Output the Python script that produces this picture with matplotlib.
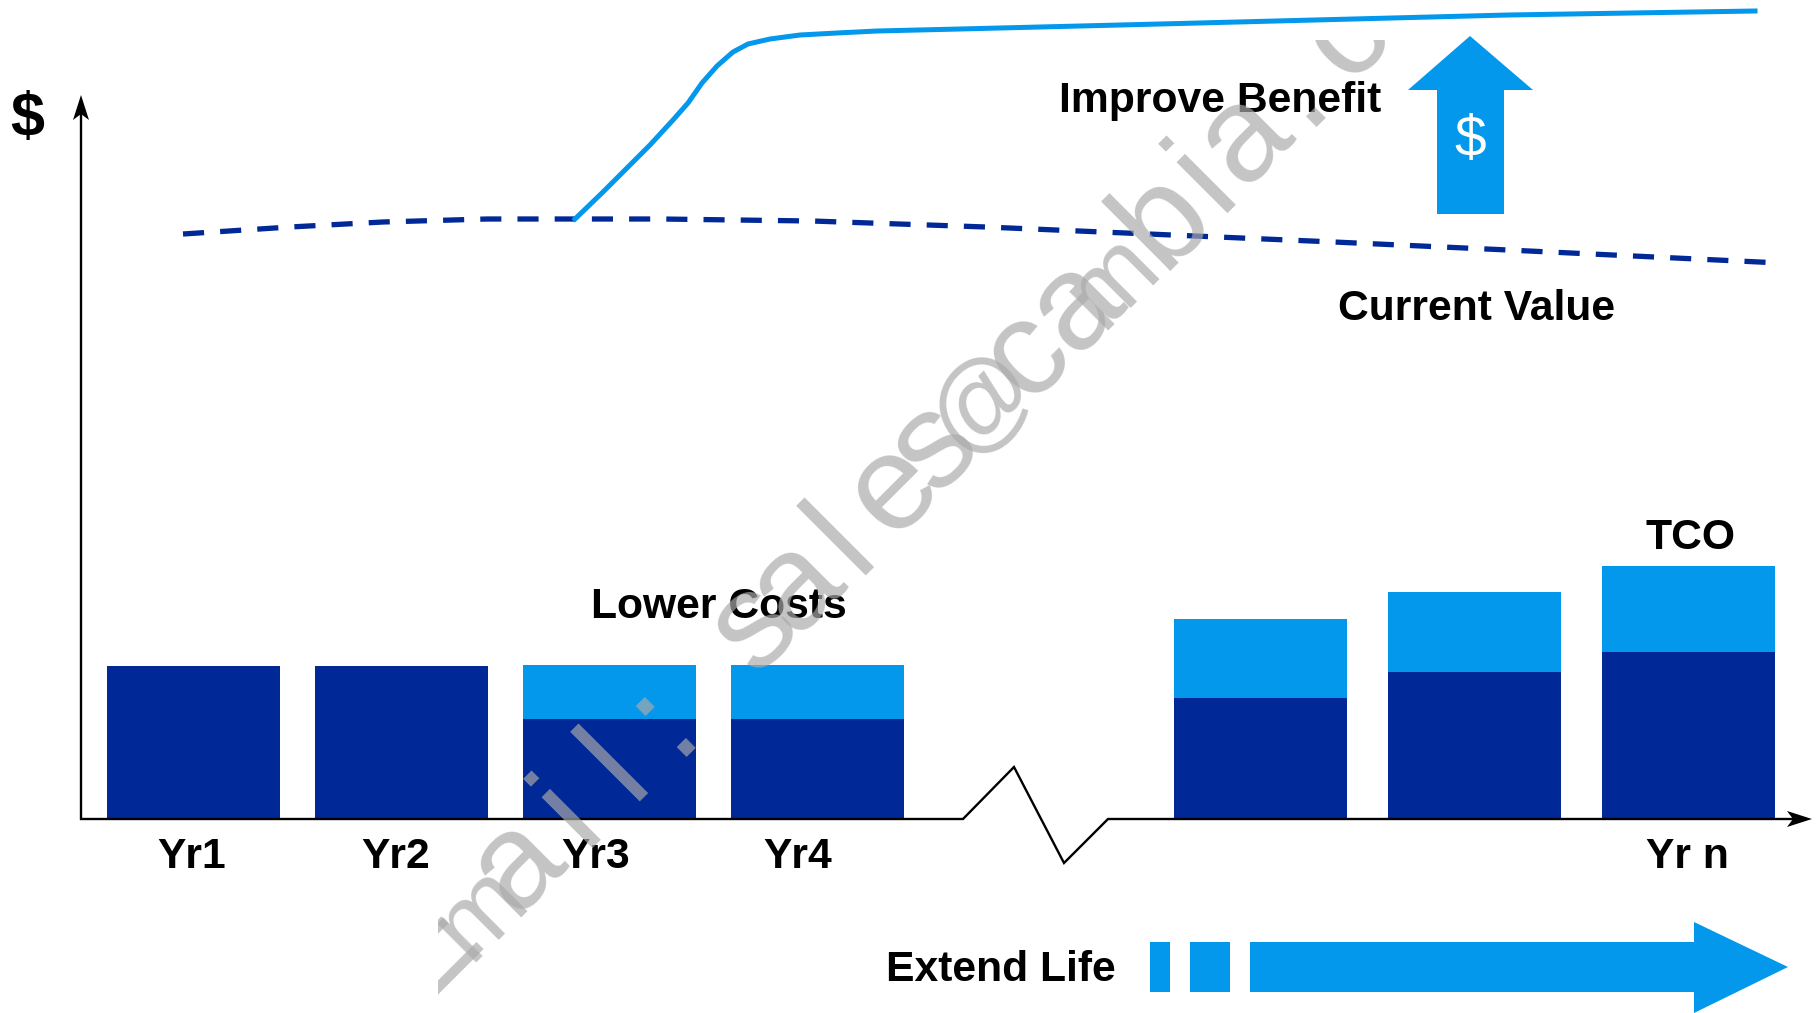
"""plot.py - TCO chart: lower costs, improve benefit, extend life."""

import matplotlib
matplotlib.use("Agg")  # no display
import matplotlib.pyplot as plt
from matplotlib.patches import Polygon, Rectangle

W, H = 1819, 1013
BASE = 819  # pixel row of the x axis

NAVY = "#002896"
BLUE = "#0398EC"
FONT = "Liberation Sans"

# bars: left edge, width, lower part height, upper part height (px)
bar_left = [107, 315, 523, 731, 1174, 1388, 1602]
bar_width = 173
bar_low = [153, 153, 100, 100, 121, 147, 167]
bar_top = [0, 0, 54, 54, 79, 80, 86]

# curves (px)
current_x = [183, 290, 383, 487, 574, 661, 812, 986, 1160, 1334, 1508, 1780]
current_y = [234, 227, 222, 219, 219, 219, 221, 227, 234.5, 242, 250, 263]
benefit_x = [575, 603, 627, 650, 673, 688, 702, 717, 733, 748, 770, 800, 837, 877, 960, 1160, 1508, 1755]
benefit_y = [219, 192, 168, 145, 120, 103, 83, 66, 52, 44, 39, 35, 33, 31, 29, 24, 15, 11]

year_labels = ["Yr1", "Yr2", "Yr3", "Yr4", "Yr n"]
year_x = [192, 396, 596, 798, 1687]

# watermark letters, spaced by hand: baseline x, font size and lift of each
wm_chars = list("Email:sales@cambia.c")
wm_x = [421, 469, 516, 584, 631, 675, 756, 795, 857, 892, 936, 965, 1028, 1075, 1101, 1161, 1219, 1243, 1305, 1348]
wm_size = [98, 75, 98, 98, 98, 98, 98, 98, 98, 98, 98, 74, 98, 98, 75, 98, 98, 98, 98, 98]
wm_up = [10, 0, 0, 0, 0, 0, 0, 0, 0, 0, 0, 10, 0, 0, 0, 0, 0, 0, 0, 0]


fig = plt.figure(figsize=(W / 100, H / 100), dpi=100)
ax = fig.add_axes([0, 0, 1, 1])
ax.set_xlim(0, W)
ax.set_ylim(H, 0)
ax.axis("off")

# stacked bars
tops = [BASE - l for l in bar_low]
ax.bar(bar_left, bar_low, width=bar_width, bottom=tops, align="edge", color=NAVY, zorder=2)
ax.bar(bar_left, bar_top, width=bar_width, bottom=[t - h for t, h in zip(tops, bar_top)],
       align="edge", color=BLUE, zorder=2)

# axes
ax.plot([81, 81, 963, 1014, 1064, 1108, 1795], [108, BASE, BASE, 767, 863, BASE, BASE],
        color="black", lw=1.7, solid_joinstyle="miter", zorder=3)
ax.add_patch(Polygon([(81, 95), (89, 120), (81, 114), (73, 120)], color="black", lw=0, zorder=3))
ax.add_patch(Polygon([(1812, BASE), (1787, BASE + 8), (1793, BASE), (1787, BASE - 8)],
                     color="black", lw=0, zorder=3))

# curves
ax.plot(current_x, current_y, color=NAVY, lw=3.8, dashes=(4.0, 3.05), dash_capstyle="butt", zorder=3)
ax.plot(benefit_x, benefit_y, color=BLUE, lw=3.6, zorder=3)

# improve arrow
ax.add_patch(Polygon([(1470, 36), (1533, 90), (1504, 90), (1504, 214), (1437, 214), (1437, 90), (1408, 90)],
                     color=BLUE, lw=0, zorder=3))
ax.text(1470, 141, "$", color="white", fontsize=41, family=FONT, ha="center", va="center", zorder=4)

# extend life arrow
ax.add_patch(Rectangle((1150, 942), 20, 50, color=BLUE, lw=0))
ax.add_patch(Rectangle((1190, 942), 40, 50, color=BLUE, lw=0))
ax.add_patch(Polygon([(1250, 942), (1694, 942), (1694, 922), (1788, 967), (1694, 1013), (1694, 992), (1250, 992)],
                     color=BLUE, lw=0))


# labels
def label(x, y, s, size=30.7):
    ax.text(x, y, s, fontsize=size, fontweight="bold", family=FONT, ha="center", va="center", zorder=4)


label(27, 119, "$", 44)
label(1220, 101, "Improve Benefit")
label(1477, 309, "Current Value")
label(719, 607, "Lower Costs")
label(1690, 538, "TCO")
label(1001, 970, "Extend Life")
for x, s in zip(year_x, year_labels):
    label(x, 857, s)

# watermark, clipped like the original
clip = Rectangle((438, 40), 1000, 960, transform=ax.transData)
for x, c, s, u in zip(wm_x, wm_chars, wm_size, wm_up):
    t = ax.text(x, 1432 - x - u, c, fontsize=s, family=FONT, color="#AAAAAA", alpha=0.69,
                rotation=45, rotation_mode="anchor", ha="left", va="baseline", zorder=5, clip_on=True)
    t.set_clip_path(clip)

fig.savefig("out.png", dpi=100)
